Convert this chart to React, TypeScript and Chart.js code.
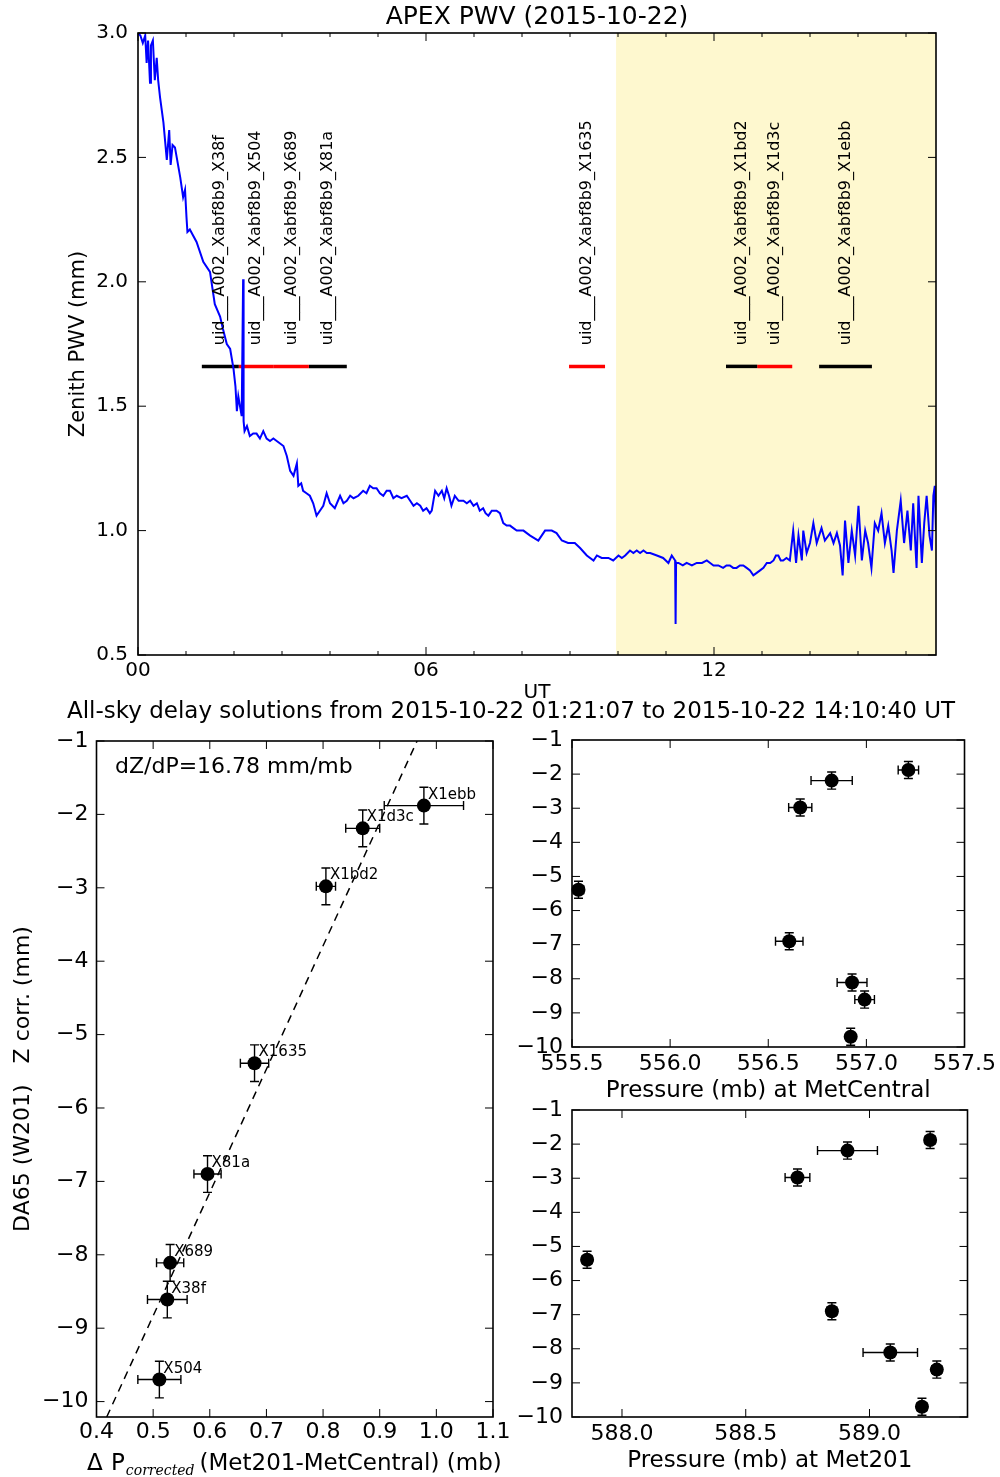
import React, { useEffect, useRef } from 'react';
import { Chart, registerables } from 'chart.js';

Chart.register(...registerables);

const FONT = "'DejaVu Sans', 'Bitstream Vera Sans', sans-serif";
const PAGE_W = 1000;
const PAGE_H = 1477;

// ---------------- APEX PWV time series (hours UT, mm) ----------------
const pwvHours = [
  0.00, 0.05, 0.10, 0.15, 0.18, 0.21, 0.25, 0.27, 0.31, 0.35, 0.39, 0.42, 0.46, 0.53, 0.60, 0.65, 0.68, 0.72, 0.77, 0.88,
  0.94, 0.98, 1.01, 1.03, 1.08, 1.22, 1.36, 1.50, 1.60, 1.71, 1.77, 1.85, 1.92, 1.99, 2.03, 2.06, 2.09, 2.16, 2.19, 2.20,
  2.22, 2.27, 2.33, 2.40, 2.47, 2.54, 2.61, 2.68, 2.75, 2.82, 2.89, 2.96, 3.03, 3.10, 3.17, 3.24, 3.31, 3.34, 3.40, 3.44,
  3.51, 3.58, 3.65, 3.72, 3.79, 3.86, 3.93, 4.00, 4.10, 4.21, 4.28, 4.35, 4.42, 4.49, 4.59, 4.69, 4.76, 4.83, 4.90, 4.97,
  5.04, 5.11, 5.18, 5.25, 5.32, 5.39, 5.49, 5.60, 5.67, 5.74, 5.81, 5.88, 5.94, 6.01, 6.08, 6.12, 6.19, 6.26, 6.33, 6.38,
  6.43, 6.48, 6.53, 6.60, 6.68, 6.78, 6.85, 6.92, 6.99, 7.06, 7.12, 7.19, 7.24, 7.30, 7.37, 7.47, 7.54, 7.61, 7.68, 7.75,
  7.82, 7.89, 7.96, 8.03, 8.10, 8.17, 8.34, 8.48, 8.55, 8.62, 8.72, 8.83, 8.96, 9.03, 9.10, 9.21, 9.35, 9.49, 9.56, 9.66,
  9.73, 9.80, 9.90, 10.01, 10.08, 10.15, 10.25, 10.32, 10.39, 10.46, 10.53, 10.60, 10.67, 10.81, 10.94, 11.05, 11.12, 11.19, 11.20, 11.21,
  11.26, 11.35, 11.43, 11.54, 11.64, 11.75, 11.85, 11.92, 11.99, 12.09, 12.19, 12.26, 12.33, 12.40, 12.47, 12.54, 12.61, 12.68, 12.75, 12.82,
  12.89, 12.96, 13.03, 13.10, 13.17, 13.24, 13.29, 13.34, 13.39, 13.44, 13.51, 13.58, 13.65, 13.71, 13.76, 13.83, 13.86, 13.93, 14.00, 14.07,
  14.14, 14.24, 14.31, 14.42, 14.49, 14.56, 14.625, 14.68, 14.73, 14.80, 14.87, 14.94, 15.01, 15.08, 15.15, 15.21, 15.28, 15.35, 15.42, 15.49,
  15.56, 15.63, 15.70, 15.74, 15.81, 15.89, 15.96, 16.03, 16.10, 16.15, 16.22, 16.26, 16.33, 16.38, 16.43, 16.49, 16.54, 16.57, 16.60, 16.625,
];
const pwvMm = [
  3.00, 2.99, 2.96, 2.99, 2.88, 2.97, 2.80, 2.95, 2.97, 2.81, 2.90, 2.81, 2.74, 2.64, 2.49, 2.61, 2.47, 2.55, 2.54, 2.42,
  2.34, 2.37, 2.26, 2.20, 2.21, 2.16, 2.08, 2.04, 1.91, 1.86, 1.81, 1.75, 1.73, 1.65, 1.58, 1.48, 1.54, 1.46, 2.01, 1.44,
  1.40, 1.42, 1.38, 1.39, 1.39, 1.37, 1.40, 1.37, 1.36, 1.37, 1.36, 1.35, 1.34, 1.30, 1.24, 1.22, 1.27, 1.18, 1.19, 1.16,
  1.15, 1.14, 1.11, 1.06, 1.08, 1.10, 1.15, 1.11, 1.09, 1.14, 1.11, 1.12, 1.14, 1.13, 1.14, 1.16, 1.15, 1.18, 1.17, 1.17,
  1.15, 1.14, 1.16, 1.16, 1.13, 1.14, 1.13, 1.14, 1.12, 1.10, 1.11, 1.10, 1.08, 1.09, 1.07, 1.08, 1.16, 1.14, 1.16, 1.13,
  1.17, 1.14, 1.10, 1.14, 1.12, 1.12, 1.11, 1.12, 1.10, 1.11, 1.08, 1.09, 1.07, 1.06, 1.08, 1.08, 1.07, 1.03, 1.02, 1.02,
  1.01, 1.00, 1.00, 1.00, 0.99, 0.98, 0.96, 1.00, 1.00, 1.00, 0.99, 0.96, 0.95, 0.95, 0.95, 0.93, 0.90, 0.88, 0.90, 0.89,
  0.89, 0.89, 0.88, 0.90, 0.89, 0.90, 0.92, 0.91, 0.92, 0.91, 0.92, 0.91, 0.91, 0.90, 0.89, 0.87, 0.90, 0.88, 0.625, 0.87,
  0.87, 0.86, 0.87, 0.86, 0.87, 0.87, 0.88, 0.87, 0.86, 0.86, 0.85, 0.86, 0.86, 0.85, 0.85, 0.86, 0.86, 0.85, 0.84, 0.82,
  0.83, 0.84, 0.85, 0.87, 0.87, 0.88, 0.90, 0.90, 0.88, 0.88, 0.89, 0.88, 1.00, 0.87, 0.98, 0.88, 1.00, 0.91, 0.95, 1.03,
  0.95, 1.01, 0.96, 0.99, 0.95, 0.99, 0.94, 0.82, 1.04, 0.87, 1.00, 0.90, 1.10, 0.88, 1.00, 0.95, 0.85, 1.03, 1.00, 1.07,
  0.95, 1.02, 0.92, 0.83, 1.00, 1.12, 0.95, 1.08, 0.92, 1.11, 0.85, 1.14, 0.87, 1.03, 1.14, 0.98, 0.92, 1.14, 1.18, 1.00,
];

// observations (scheduling blocks)
const obsPrefix = 'uid___A002_Xabf8b9_';
const obsNames = ['X38f', 'X504', 'X689', 'X81a', 'X1635', 'X1bd2', 'X1d3c', 'X1ebb'];
const obsStartHour = [1.33, 2.10, 2.83, 3.56, 8.98, 12.25, 12.90, 14.19];
const obsEndHour = [2.10, 2.83, 3.56, 4.35, 9.73, 12.90, 13.63, 15.29];
const obsFlagged = [false, true, true, false, true, false, true, false];
const obsBarPwv = 1.66;
const obsLabelPwv = 1.745;
const shadeStartHour = 9.96;

// ---------------- all-sky delay solutions ----------------
const solNames = ['X38f', 'X504', 'X689', 'X81a', 'X1635', 'X1bd2', 'X1d3c', 'X1ebb'];
const deltaP = [0.525, 0.511, 0.530, 0.596, 0.679, 0.805, 0.870, 0.978];
const deltaPErr = [0.035, 0.038, 0.024, 0.024, 0.025, 0.017, 0.030, 0.070];
const zCorr = [-8.61, -9.70, -8.11, -6.90, -5.39, -2.98, -2.19, -1.88];
const zCorrErr = [0.25, 0.25, 0.25, 0.25, 0.25, 0.25, 0.25, 0.25];
const pMetCentral = [556.991, 556.920, 556.927, 556.607, 555.533, 556.663, 556.823, 557.214];
const pMetCentralErr = [0.050, 0.020, 0.076, 0.070, 0.027, 0.059, 0.105, 0.052];
const pMet201 = [589.272, 589.212, 589.084, 588.848, 587.859, 588.709, 588.911, 589.245];
const pMet201Err = [0.020, 0.020, 0.110, 0.020, 0.020, 0.050, 0.121, 0.020];
const fitLineDP = [0.418, 0.966];
const fitLineZ = [-10.21, -1.0];
const slopeMmPerMb = 16.78;

const topTitle = 'APEX PWV (2015-10-22)';
const supTitle = 'All-sky delay solutions from 2015-10-22 01:21:07 to 2015-10-22 14:10:40 UT';

type Area = { l: number; t: number; r: number; b: number };

const minus = (v: number) => (v < 0 ? '\u2212' + Math.abs(v) : String(v));

function frameTicks(xMajorStep: number | null, majorLen: number, minorLen: number) {
  return {
    id: 'frameTicks',
    afterDatasetsDraw(chart: any) {
      const { ctx, chartArea: a, scales } = chart;
      const x = scales.x;
      const y = scales.y;
      ctx.save();
      ctx.strokeStyle = '#000';
      ctx.lineWidth = 1;
      ctx.beginPath();
      for (const t of x.ticks) {
        const px = x.getPixelForValue(t.value);
        const major =
          xMajorStep == null || Math.abs(t.value / xMajorStep - Math.round(t.value / xMajorStep)) < 1e-6;
        const len = major ? majorLen : minorLen;
        ctx.moveTo(px, a.bottom);
        ctx.lineTo(px, a.bottom - len);
        ctx.moveTo(px, a.top);
        ctx.lineTo(px, a.top + len);
      }
      for (const t of y.ticks) {
        const py = y.getPixelForValue(t.value);
        ctx.moveTo(a.left, py);
        ctx.lineTo(a.left + majorLen, py);
        ctx.moveTo(a.right, py);
        ctx.lineTo(a.right - majorLen, py);
      }
      ctx.stroke();
      ctx.lineWidth = 1.6;
      ctx.strokeRect(a.left, a.top, a.right - a.left, a.bottom - a.top);
      ctx.restore();
    },
  };
}

function errorBars(xs: number[], ys: number[], xe: number[], ye: number[], cap: number) {
  return {
    id: 'errorBars',
    beforeDatasetsDraw(chart: any) {
      const { ctx, scales } = chart;
      const x = scales.x;
      const y = scales.y;
      ctx.save();
      ctx.strokeStyle = '#000';
      ctx.lineWidth = 1.4;
      ctx.beginPath();
      for (let i = 0; i < xs.length; i++) {
        const px = x.getPixelForValue(xs[i]);
        const py = y.getPixelForValue(ys[i]);
        const x0 = x.getPixelForValue(xs[i] - xe[i]);
        const x1 = x.getPixelForValue(xs[i] + xe[i]);
        const y0 = y.getPixelForValue(ys[i] - ye[i]);
        const y1 = y.getPixelForValue(ys[i] + ye[i]);
        ctx.moveTo(x0, py); ctx.lineTo(x1, py);
        ctx.moveTo(x0, py - cap); ctx.lineTo(x0, py + cap);
        ctx.moveTo(x1, py - cap); ctx.lineTo(x1, py + cap);
        ctx.moveTo(px, y0); ctx.lineTo(px, y1);
        ctx.moveTo(px - cap, y0); ctx.lineTo(px + cap, y0);
        ctx.moveTo(px - cap, y1); ctx.lineTo(px + cap, y1);
      }
      ctx.stroke();
      ctx.restore();
    },
  };
}

function baseOptions(area: Area, wy: number, hx: number) {
  return {
    responsive: false,
    animation: false,
    devicePixelRatio: 1,
    events: [],
    layout: {
      padding: { left: area.l - wy, top: area.t, right: PAGE_W - area.r, bottom: PAGE_H - area.b - hx },
    },
    plugins: { legend: { display: false }, tooltip: { enabled: false }, title: { display: false } },
  };
}

function xScale(o: {
  min: number; max: number; step: number; hx: number; pad: number; size: number;
  cb: (v: number) => string; title?: string; titleSize?: number; titlePad?: number;
}) {
  return {
    type: 'linear',
    position: 'bottom',
    min: o.min,
    max: o.max,
    afterFit: (s: any) => { s.height = o.hx; },
    grid: { display: false, drawTicks: false },
    border: { display: false },
    ticks: {
      stepSize: o.step, includeBounds: false, autoSkip: false, maxRotation: 0, minRotation: 0,
      padding: o.pad, color: '#000', font: { family: FONT, size: o.size },
      callback: (v: any) => o.cb(Number(v)),
    },
    title: o.title
      ? { display: true, text: o.title, color: '#000', font: { family: FONT, size: o.titleSize }, padding: { top: 0, bottom: o.titlePad } }
      : { display: false },
  };
}

function yScale(o: {
  min: number; max: number; step: number; wy: number; pad: number; size: number;
  cb: (v: number) => string; title?: string; titleSize?: number; titlePad?: number;
}) {
  return {
    type: 'linear',
    position: 'left',
    min: o.min,
    max: o.max,
    afterFit: (s: any) => { s.width = o.wy; },
    grid: { display: false, drawTicks: false },
    border: { display: false },
    ticks: {
      stepSize: o.step, includeBounds: false, autoSkip: false,
      padding: o.pad, color: '#000', font: { family: FONT, size: o.size },
      callback: (v: any) => o.cb(Number(v)),
    },
    title: o.title
      ? { display: true, text: o.title, color: '#000', font: { family: FONT, size: o.titleSize }, padding: { top: o.titlePad, bottom: 0 } }
      : { display: false },
  };
}

function topConfig(): any {
  const area = { l: 138, t: 33, r: 936, b: 655 };
  const wy = 80, hx = 50;
  const shade = {
    id: 'shade',
    beforeDatasetsDraw(chart: any) {
      const { ctx, chartArea: a, scales } = chart;
      const x0 = scales.x.getPixelForValue(shadeStartHour);
      ctx.save();
      ctx.fillStyle = '#fef8cf';
      ctx.fillRect(x0, a.top, a.right - x0, a.bottom - a.top);
      ctx.restore();
    },
  };
  const texts = {
    id: 'topTexts',
    afterDatasetsDraw(chart: any) {
      const { ctx, chartArea: a, scales } = chart;
      ctx.save();
      ctx.fillStyle = '#000';
      ctx.font = `16px ${FONT}`;
      for (let i = 0; i < obsNames.length; i++) {
        const px = scales.x.getPixelForValue((obsStartHour[i] + obsEndHour[i]) / 2);
        const py = scales.y.getPixelForValue(obsLabelPwv);
        ctx.save();
        ctx.translate(px, py);
        ctx.rotate(-Math.PI / 2);
        ctx.textAlign = 'left';
        ctx.textBaseline = 'middle';
        ctx.fillText(obsPrefix + obsNames[i], 0, 0);
        ctx.restore();
      }
      ctx.font = `25px ${FONT}`;
      ctx.textAlign = 'center';
      ctx.textBaseline = 'alphabetic';
      ctx.fillText(topTitle, (a.left + a.right) / 2, 24);
      ctx.restore();
    },
  };
  return {
    type: 'scatter',
    data: {
      datasets: [
        {
          data: pwvHours.map((h, i) => ({ x: h, y: pwvMm[i] })),
          showLine: true, borderColor: '#0000ff', borderWidth: 2, pointRadius: 0, order: 0,
        },
        ...obsNames.map((_, i) => ({
          data: [{ x: obsStartHour[i], y: obsBarPwv }, { x: obsEndHour[i], y: obsBarPwv }],
          showLine: true, borderColor: obsFlagged[i] ? '#ff0000' : '#000000', borderWidth: 3.5,
          pointRadius: 0, order: 1,
        })),
      ],
    },
    options: {
      ...baseOptions(area, wy, hx),
      scales: {
        x: xScale({
          min: 0, max: 16.625, step: 1, hx, pad: 4, size: 20,
          cb: (v) => (Math.abs(v % 6) < 1e-9 ? (v < 10 ? '0' : '') + v : ''),
          title: 'UT', titleSize: 20, titlePad: 0,
        }),
        y: yScale({
          min: 0.5, max: 3.0, step: 0.5, wy, pad: 10, size: 20, cb: (v) => v.toFixed(1),
          title: 'Zenith PWV (mm)', titleSize: 21, titlePad: 8.4,
        }),
      },
    },
    plugins: [shade, frameTicks(6, 8, 4), texts],
  };
}

function bottomLeftConfig(): any {
  const area = { l: 96.5, t: 741, r: 493, b: 1417 };
  const wy = 90, hx = 60;
  const texts = {
    id: 'blTexts',
    afterDatasetsDraw(chart: any) {
      const { ctx, chartArea: a, scales } = chart;
      ctx.save();
      ctx.fillStyle = '#000';
      ctx.textBaseline = 'alphabetic';
      ctx.textAlign = 'left';
      ctx.font = `15px ${FONT}`;
      for (let i = 0; i < solNames.length; i++) {
        ctx.fillText(solNames[i], scales.x.getPixelForValue(deltaP[i]) + 4, scales.y.getPixelForValue(zCorr[i]) - 7);
      }
      ctx.font = `22px ${FONT}`;
      ctx.fillText(`dZ/dP=${slopeMmPerMb.toFixed(2)} mm/mb`, a.left + 18.5, a.top + 32);
      // x-axis title with subscript
      const base = 1470;
      ctx.font = `23px ${FONT}`;
      ctx.fillText('\u0394', 87, base);
      ctx.fillText('P', 111, base);
      let cx = 111 + ctx.measureText('P').width + 1;
      ctx.font = `italic 14px 'DejaVu Serif', serif`;
      ctx.fillText('corrected', cx, base + 5);
      cx += ctx.measureText('corrected').width + 5;
      ctx.font = `23px ${FONT}`;
      ctx.fillText('(Met201-MetCentral) (mb)', cx, base);
      // figure sub-title
      ctx.textAlign = 'center';
      ctx.fillText(supTitle, 511, 718);
      ctx.restore();
    },
  };
  return {
    type: 'scatter',
    data: {
      datasets: [
        {
          data: deltaP.map((v, i) => ({ x: v, y: zCorr[i] })),
          showLine: false, pointRadius: 7, pointBackgroundColor: '#000', pointBorderWidth: 0,
          pointBorderColor: '#000', clip: false, order: 0,
        },
        {
          data: fitLineDP.map((v, i) => ({ x: v, y: fitLineZ[i] })),
          showLine: true, borderColor: '#000', borderWidth: 1.5, borderDash: [8, 6], pointRadius: 0, order: 1,
        },
      ],
    },
    options: {
      ...baseOptions(area, wy, hx),
      scales: {
        x: xScale({ min: 0.4, max: 1.1, step: 0.1, hx, pad: 2.4, size: 22, cb: (v) => v.toFixed(1) }),
        y: yScale({
          min: -10.21, max: -1, step: 1, wy, pad: 8, size: 22, cb: minus,
          title: 'DA65 (W201)   Z corr. (mm)', titleSize: 22, titlePad: 3.3,
        }),
      },
    },
    plugins: [errorBars(deltaP, zCorr, deltaPErr, zCorrErr, 4.5), frameTicks(null, 8, 8), texts],
  };
}

function pressureConfig(area: Area, px: number[], pxErr: number[], xmin: number, xmax: number, title: string, titlePad: number): any {
  const wy = 70, hx = 60;
  return {
    type: 'scatter',
    data: {
      datasets: [
        {
          data: px.map((v, i) => ({ x: v, y: zCorr[i] })),
          showLine: false, pointRadius: 7, pointBackgroundColor: '#000', pointBorderWidth: 0,
          pointBorderColor: '#000', clip: false,
        },
      ],
    },
    options: {
      ...baseOptions(area, wy, hx),
      scales: {
        x: xScale({
          min: xmin, max: xmax, step: 0.5, hx, pad: 4, size: 22, cb: (v) => v.toFixed(1),
          title, titleSize: 23, titlePad,
        }),
        y: yScale({ min: -10, max: -1, step: 1, wy, pad: 9, size: 22, cb: minus }),
      },
    },
    plugins: [errorBars(px, zCorr, pxErr, zCorrErr, 4.5), frameTicks(null, 8, 8)],
  };
}

export default function App() {
  const r1 = useRef<HTMLCanvasElement>(null);
  const r2 = useRef<HTMLCanvasElement>(null);
  const r3 = useRef<HTMLCanvasElement>(null);
  const r4 = useRef<HTMLCanvasElement>(null);

  useEffect(() => {
    document.body.style.margin = '0';
    const charts = [
      new Chart(r1.current as HTMLCanvasElement, topConfig()),
      new Chart(r2.current as HTMLCanvasElement, bottomLeftConfig()),
      new Chart(
        r3.current as HTMLCanvasElement,
        pressureConfig({ l: 572, t: 740, r: 967.5, b: 1047 }, pMetCentral, pMetCentralErr, 555.5, 557.5,
          'Pressure (mb) at MetCentral', 2.2),
      ),
      new Chart(
        r4.current as HTMLCanvasElement,
        pressureConfig({ l: 572, t: 1110, r: 967.5, b: 1417 }, pMet201, pMet201Err, 587.798, 589.396,
          'Pressure (mb) at Met201', 2.2),
      ),
    ];
    return () => charts.forEach((c) => c.destroy());
  }, []);

  const st: React.CSSProperties = { position: 'absolute', left: 0, top: 0, width: PAGE_W, height: PAGE_H };
  return (
    <div style={{ position: 'absolute', left: 0, top: 0, width: PAGE_W, height: PAGE_H, background: '#fff', overflow: 'hidden' }}>
      <canvas ref={r1} width={PAGE_W} height={PAGE_H} style={st} />
      <canvas ref={r2} width={PAGE_W} height={PAGE_H} style={st} />
      <canvas ref={r3} width={PAGE_W} height={PAGE_H} style={st} />
      <canvas ref={r4} width={PAGE_W} height={PAGE_H} style={st} />
    </div>
  );
}
